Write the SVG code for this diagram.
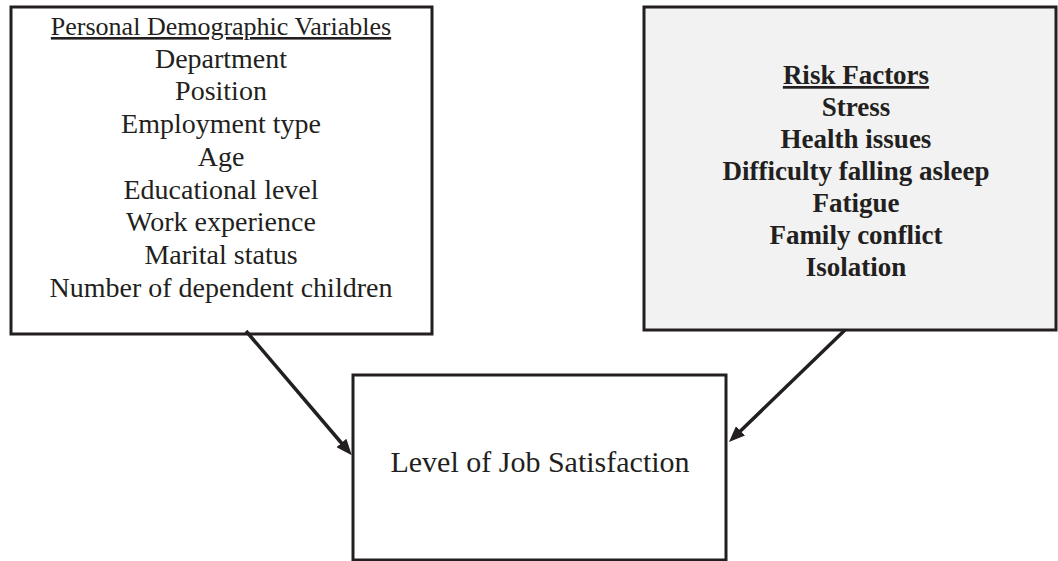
<svg xmlns="http://www.w3.org/2000/svg" width="1058" height="561" viewBox="0 0 1058 561">
<style>
.box{stroke:#231f20;stroke-width:3;fill:#fff}
.grey{fill:#f2f2f2}
.t{font-family:"Liberation Serif","Times New Roman",serif;fill:#231f20;text-anchor:middle}
.b{font-weight:bold}
.conn{stroke:#231f20;stroke-width:3.5;fill:none}
</style>
<defs>
<marker id="ah" markerWidth="16" markerHeight="13" refX="4" refY="6.5" orient="auto" markerUnits="userSpaceOnUse" viewBox="0 0 16 13">
<path d="M0,0 L16,6.5 L0,13 z" fill="#231f20"/>
</marker>
</defs>
<rect width="1058" height="561" fill="#fff"/>
<g id="personal">
<rect class="box" x="11" y="7" width="421" height="327"/>
<text class="t" font-size="26" x="221" y="35" text-decoration="underline">Personal Demographic Variables</text>
<text class="t" font-size="28" x="221" y="68">Department</text>
<text class="t" font-size="28" x="221" y="100">Position</text>
<text class="t" font-size="28" x="221" y="133">Employment type</text>
<text class="t" font-size="28" x="221" y="166">Age</text>
<text class="t" font-size="28" x="221" y="199">Educational level</text>
<text class="t" font-size="28" x="221" y="231">Work experience</text>
<text class="t" font-size="28" x="221" y="264">Marital status</text>
<text class="t" font-size="28" x="221" y="297">Number of dependent children</text>
</g>
<g id="risk">
<rect class="box grey" x="644" y="7" width="412" height="323"/>
<text class="t b" font-size="27" x="856" y="84" text-decoration="underline">Risk Factors</text>
<text class="t b" font-size="27" x="856" y="116">Stress</text>
<text class="t b" font-size="27" x="856" y="148">Health issues</text>
<text class="t b" font-size="27" x="856" y="180">Difficulty falling asleep</text>
<text class="t b" font-size="27" x="856" y="212">Fatigue</text>
<text class="t b" font-size="27" x="856" y="244">Family conflict</text>
<text class="t b" font-size="27" x="856" y="276">Isolation</text>
</g>
<g id="satisfaction">
<rect class="box" x="353" y="375" width="373" height="185"/>
<text class="t" font-size="30" x="540" y="472">Level of Job Satisfaction</text>
</g>
<g id="connectors">
<line class="conn" x1="246" y1="331" x2="344" y2="446" marker-end="url(#ah)"/>
<line class="conn" x1="845" y1="330" x2="737.6" y2="433.7" marker-end="url(#ah)"/>
</g>
</svg>
